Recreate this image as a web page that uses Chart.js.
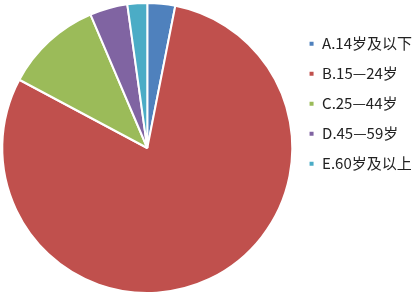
<!DOCTYPE html>
<html>
<head>
<meta charset="utf-8">
<script src="https://cdn.jsdelivr.net/npm/chart.js@4/dist/chart.umd.min.js"></script>
<style>
  html, body { margin: 0; padding: 0; background: #fff; }
  #wrap { width: 417px; height: 297px; }
</style>
</head>
<body>
<div id="wrap"><canvas id="pie" width="417" height="297"></canvas></div>
<script>
// Age groups and their share (%)
const ageLabels = ['A.14岁及以下', 'B.15—24岁', 'C.25—44岁', 'D.45—59岁', 'E.60岁及以上'];
const ageShare = [3.1, 79.7, 10.8, 4.2, 2.2];
const sliceColors = ['#4F81BD', '#C0504D', '#9BBB59', '#8064A2', '#4BACC6'];

new Chart(document.getElementById('pie'), {
  type: 'pie',
  data: {
    labels: ageLabels,
    datasets: [{ data: ageShare, backgroundColor: sliceColors, borderColor: '#fff', borderWidth: 2 }]
  },
  options: {
    responsive: false,
    animation: false,
    layout: { padding: { left: 1, top: 2, bottom: 3, right: -5 } },
    plugins: {
      tooltip: { enabled: false },
      legend: {
        position: 'right',
        align: 'start',
        title: { display: true, text: ' ', padding: { top: 18, bottom: 0 }, font: { size: 1 } },
        labels: {
          boxWidth: 6, boxHeight: 6, padding: 15, color: '#222',
          font: { size: 15, family: '"Noto Sans CJK SC", "Noto Sans", sans-serif' }
        }
      }
    }
  }
});
</script>
</body>
</html>
